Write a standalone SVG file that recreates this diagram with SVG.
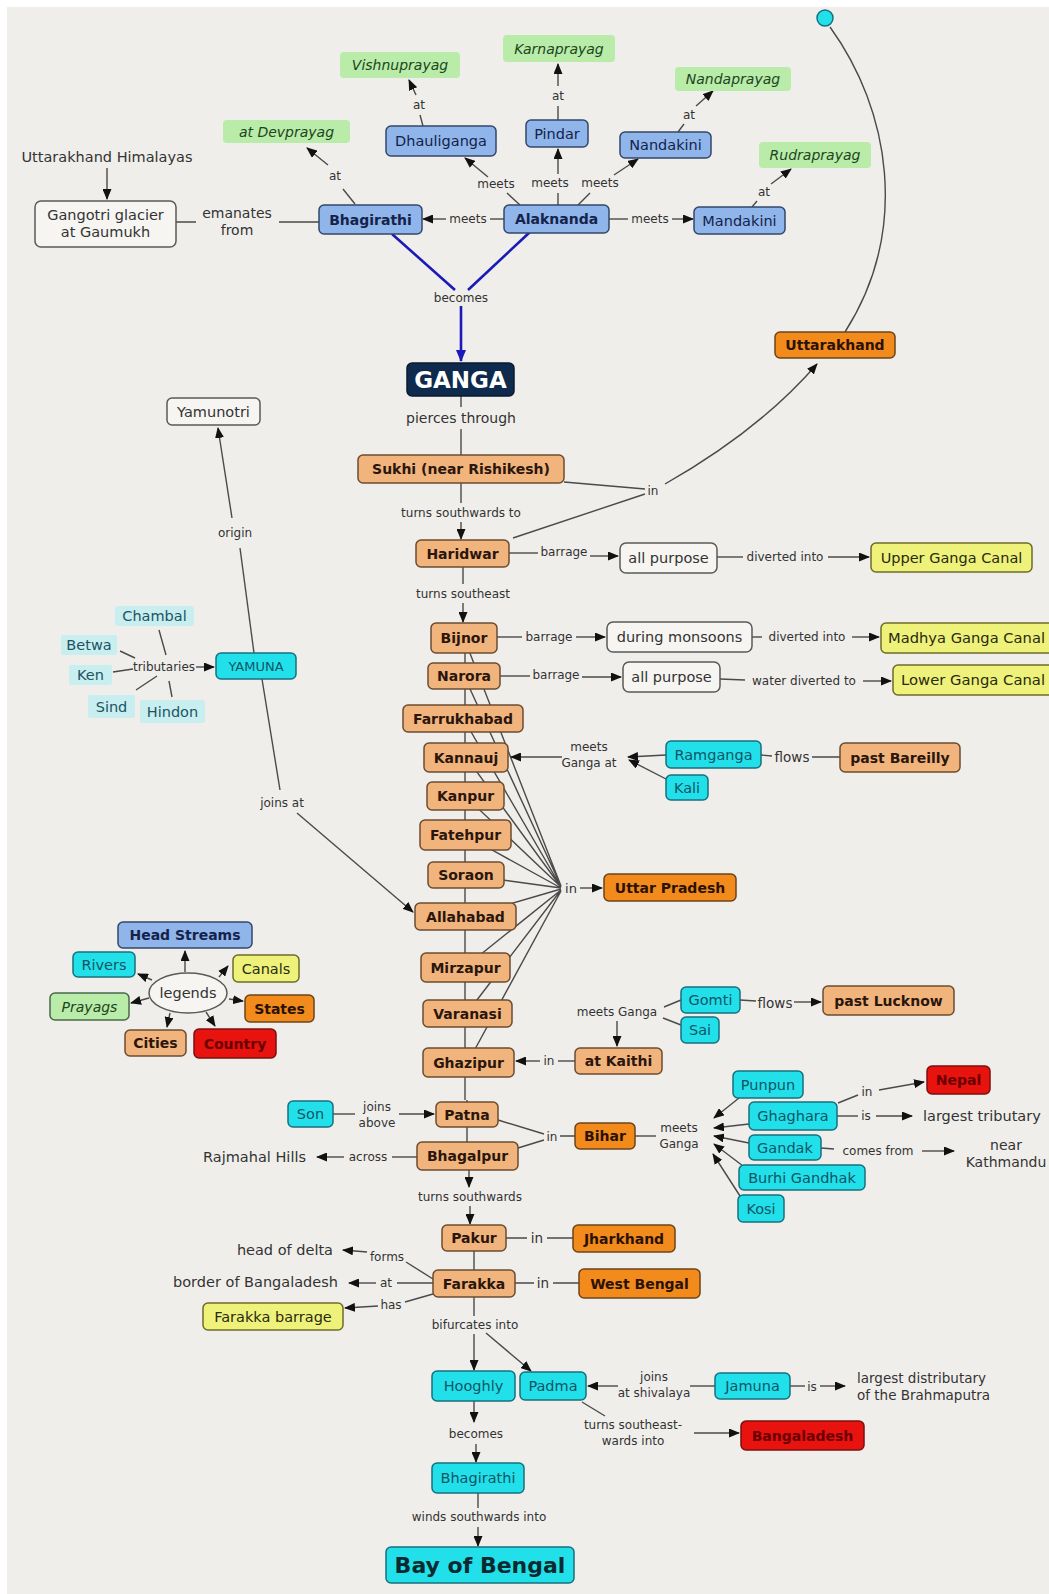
<svg xmlns="http://www.w3.org/2000/svg" width="1049" height="1594" viewBox="0 0 1049 1594">
<defs>
<marker id="arr" markerUnits="userSpaceOnUse" markerWidth="11" markerHeight="9" refX="10" refY="4.5" orient="auto"><path d="M0,0 L11,4.5 L0,9 z" fill="#111"/></marker>
<marker id="arrb" markerUnits="userSpaceOnUse" markerWidth="12" markerHeight="10" refX="11" refY="5" orient="auto"><path d="M0,0 L12,5 L0,10 z" fill="#1a1ab8"/></marker>
<style>
text{font-family:"DejaVu Sans",Verdana,sans-serif;dominant-baseline:central;text-anchor:middle;font-size:14.5px;fill:#2a2a2a}
rect{stroke-width:1.5}
.lbl{font-size:12px;fill:#333}
.city rect{fill:#f2b47d;stroke:#6b4c30}
.city text{fill:#2a160c;font-weight:bold;font-size:14px}
.state rect{fill:#f28a1c;stroke:#6b4418}
.state text{fill:#2a1205;font-weight:bold;font-size:14px}
.head rect{fill:#8fb5ea;stroke:#34476b}
.head text{fill:#15234a}
.b text{font-weight:bold;font-size:14px}
.river rect{fill:#22e0ea;stroke:#17707e}
.river text{fill:#0f5566}
.prayag rect{fill:#b9eba9;stroke:none}
.prayag text{fill:#1c461c;font-style:italic;font-size:14px}
.canal rect{fill:#eef27a;stroke:#6c6c2a}
.canal text{fill:#2a2a10}
.plain rect{fill:#f6f5f2;stroke:#5a5a5a}
.plain text{fill:#333}
.country rect{fill:#e8120e;stroke:#7a1010}
.country text{fill:#6a0000;font-weight:bold;font-size:14px}
.trib rect{fill:#c9eef0;stroke:none}
.trib text{fill:#1b5463}
.free{fill:#333}
</style>
</defs>
<rect x="0" y="0" width="1049" height="1594" fill="#ffffff"/>
<rect x="7" y="7" width="1042" height="1587" fill="#f0eeeb"/>

<g id="connectors" fill="none" stroke="#4a4a4a" stroke-width="1.4">
<path d="M107,168 L107,199" marker-end="url(#arr)"/>
<path d="M176,222 L196,222 M279,222 L319,222"/>
<path d="M504,219 L490,219"/><path d="M446,219 L423,219" marker-end="url(#arr)"/>
<path d="M355,204 L343,189"/><path d="M328,165 L307,148" marker-end="url(#arr)"/>
<path d="M520,205 L507,193"/><path d="M488,177 L465,158" marker-end="url(#arr)"/>
<path d="M423,126 L420,115"/><path d="M416,95 L409,80" marker-end="url(#arr)"/>
<path d="M558,205 L558,193"/><path d="M558,174 L558,149" marker-end="url(#arr)"/>
<path d="M558,120 L558,106"/><path d="M558,86 L558,64" marker-end="url(#arr)"/>
<path d="M578,205 L590,193"/><path d="M614,175 L638,159" marker-end="url(#arr)"/>
<path d="M678,132 L684,124"/><path d="M696,106 L713,91" marker-end="url(#arr)"/>
<path d="M609,219 L628,219"/><path d="M672,219 L693,219" marker-end="url(#arr)"/>
<path d="M752,207 L757,201"/><path d="M771,184 L791,169" marker-end="url(#arr)"/>
<path d="M392,234 L455,290 M530,232 L468,290" stroke="#1a1ab8" stroke-width="2.6"/>
<path d="M461,306 L461,361" stroke="#1a1ab8" stroke-width="2.6" marker-end="url(#arrb)"/>
<path d="M461,396 L461,407 M461,429 L461,455"/>
<path d="M461,483 L461,503"/><path d="M461,522 L461,539" marker-end="url(#arr)"/>
<path d="M564,482 L645,489 M513,538 L645,494"/>
<path d="M665,484 Q760,430 817,364" marker-end="url(#arr)"/>
<path d="M830,27 C890,110 910,230 845,332"/>
<path d="M463,567 L463,584"/><path d="M463,603 L463,622" marker-end="url(#arr)"/>
<path d="M509,553 L538,553"/><path d="M590,556 L618,556" marker-end="url(#arr)"/>
<path d="M717,557 L743,557"/><path d="M828,557 L869,557" marker-end="url(#arr)"/>
<path d="M497,637 L522,637"/><path d="M576,637 L605,637" marker-end="url(#arr)"/>
<path d="M752,637 L762,637"/><path d="M852,637 L879,637" marker-end="url(#arr)"/>
<path d="M500,676 L530,676"/><path d="M582,677 L621,677" marker-end="url(#arr)"/>
<path d="M720,679 L745,680"/><path d="M863,681 L891,681" marker-end="url(#arr)"/>
<path d="M465,653 L465,1100 M467,1100 L467,1142"/>
<path d="M464,638 L561,886 M464,676 L561,886 M463,718 L561,887 M466,757 L561,887 M465,796 L561,887 M465,835 L561,888 M466,875 L561,888 M465,917 L561,889 M465,967 L561,890 M467,1013 L561,890 M468,1062 L561,891"/>
<path d="M580,888 L602,888" marker-end="url(#arr)"/>
<path d="M666,755 L628,757" marker-end="url(#arr)"/>
<path d="M668,780 L629,760" marker-end="url(#arr)"/>
<path d="M562,757 L511,757" marker-end="url(#arr)"/>
<path d="M761,755 L772,756 M812,757 L840,757"/>
<path d="M254,653 L240,548"/><path d="M232,518 L218,428" marker-end="url(#arr)"/>
<path d="M159,630 L166,655 M120,651 L135,658 M113,672 L133,669 M136,690 L157,676 M172,697 L169,681"/>
<path d="M196,667 L214,667" marker-end="url(#arr)"/>
<path d="M262,679 L280,790"/><path d="M297,813 L413,912" marker-end="url(#arr)"/>
<path d="M681,1000 L664,1007 M681,1025 L663,1018"/>
<path d="M617,1021 L617,1046" marker-end="url(#arr)"/>
<path d="M740,1000 L756,1001"/><path d="M794,1002 L821,1002" marker-end="url(#arr)"/>
<path d="M575,1061 L558,1061"/><path d="M540,1061 L516,1061" marker-end="url(#arr)"/>
<path d="M333,1114 L355,1114"/><path d="M399,1114 L434,1114" marker-end="url(#arr)"/>
<path d="M498,1120 L544,1134 M518,1148 L544,1140 M560,1136 L575,1136"/>
<path d="M635,1136 L656,1136"/>
<path d="M739,1098 L714,1118" marker-end="url(#arr)"/>
<path d="M749,1124 L714,1128" marker-end="url(#arr)"/>
<path d="M749,1143 L714,1136" marker-end="url(#arr)"/>
<path d="M743,1166 L714,1144" marker-end="url(#arr)"/>
<path d="M740,1196 L713,1154" marker-end="url(#arr)"/>
<path d="M838,1103 L858,1095"/><path d="M879,1090 L924,1082" marker-end="url(#arr)"/>
<path d="M837,1116 L858,1116"/><path d="M876,1116 L912,1116" marker-end="url(#arr)"/>
<path d="M821,1148 L834,1149"/><path d="M922,1151 L954,1151" marker-end="url(#arr)"/>
<path d="M417,1157 L392,1157"/><path d="M344,1157 L317,1157" marker-end="url(#arr)"/>
<path d="M469,1170 L469,1187" marker-end="url(#arr)"/>
<path d="M470,1206 L470,1224" marker-end="url(#arr)"/>
<path d="M506,1238 L527,1238 M547,1238 L573,1238"/>
<path d="M474,1251 L474,1270"/>
<path d="M433,1279 L406,1262"/><path d="M367,1252 L343,1250" marker-end="url(#arr)"/>
<path d="M433,1283 L397,1283"/><path d="M376,1283 L349,1283" marker-end="url(#arr)"/>
<path d="M433,1294 L405,1302"/><path d="M378,1306 L345,1308" marker-end="url(#arr)"/>
<path d="M515,1283 L534,1283 M553,1283 L579,1283"/>
<path d="M474,1297 L474,1316"/>
<path d="M474,1334 L474,1370" marker-end="url(#arr)"/>
<path d="M486,1333 L531,1371" marker-end="url(#arr)"/>
<path d="M715,1386 L690,1386"/><path d="M618,1386 L588,1386" marker-end="url(#arr)"/>
<path d="M790,1386 L805,1386"/><path d="M820,1386 L845,1386" marker-end="url(#arr)"/>
<path d="M582,1402 L605,1416"/><path d="M694,1433 L739,1433" marker-end="url(#arr)"/>
<path d="M474,1401 L474,1422" marker-end="url(#arr)"/>
<path d="M476,1444 L476,1462" marker-end="url(#arr)"/>
<path d="M478,1493 L478,1508"/><path d="M478,1527 L478,1546" marker-end="url(#arr)"/>
<path d="M185,972 L185,951" marker-end="url(#arr)"/>
<path d="M152,980 L138,974" marker-end="url(#arr)"/>
<path d="M219,977 L228,966" marker-end="url(#arr)"/>
<path d="M149,998 L131,1003" marker-end="url(#arr)"/>
<path d="M229,999 L243,1001" marker-end="url(#arr)"/>
<path d="M170,1013 L167,1027" marker-end="url(#arr)"/>
<path d="M206,1012 L215,1026" marker-end="url(#arr)"/>
</g>

<g id="link-labels" stroke="none">
<text class="lbl" x="237" y="213" style="font-size:14px">emanates</text>
<text class="lbl" x="237" y="230" style="font-size:14px">from</text>
<text class="lbl" x="468" y="219">meets</text>
<text class="lbl" x="335" y="176">at</text>
<text class="lbl" x="496" y="184">meets</text>
<text class="lbl" x="419" y="105">at</text>
<text class="lbl" x="550" y="183">meets</text>
<text class="lbl" x="558" y="96">at</text>
<text class="lbl" x="600" y="183">meets</text>
<text class="lbl" x="689" y="115">at</text>
<text class="lbl" x="650" y="219">meets</text>
<text class="lbl" x="764" y="192">at</text>
<text class="lbl" x="461" y="298">becomes</text>
<text class="lbl" x="461" y="418" style="font-size:14px">pierces through</text>
<text class="lbl" x="461" y="513">turns southwards to</text>
<text class="lbl" x="653" y="491">in</text>
<text class="lbl" x="463" y="594">turns southeast</text>
<text class="lbl" x="564" y="552">barrage</text>
<text class="lbl" x="785" y="557">diverted into</text>
<text class="lbl" x="549" y="637">barrage</text>
<text class="lbl" x="807" y="637">diverted into</text>
<text class="lbl" x="556" y="675">barrage</text>
<text class="lbl" x="804" y="681">water diverted to</text>
<text class="lbl" x="571" y="888" style="font-size:13px">in</text>
<text class="lbl" x="589" y="747">meets</text>
<text class="lbl" x="589" y="763">Ganga at</text>
<text class="lbl" x="792" y="757" style="font-size:13.5px">flows</text>
<text class="lbl" x="235" y="533">origin</text>
<text class="lbl" x="164" y="667">tributaries</text>
<text class="lbl" x="282" y="803">joins at</text>
<text class="lbl" x="617" y="1012">meets Ganga</text>
<text class="lbl" x="775" y="1003" style="font-size:13.5px">flows</text>
<text class="lbl" x="549" y="1061">in</text>
<text class="lbl" x="377" y="1107">joins</text>
<text class="lbl" x="377" y="1123">above</text>
<text class="lbl" x="552" y="1137">in</text>
<text class="lbl" x="679" y="1128">meets</text>
<text class="lbl" x="679" y="1144">Ganga</text>
<text class="lbl" x="867" y="1092">in</text>
<text class="lbl" x="866" y="1116">is</text>
<text class="lbl" x="878" y="1151">comes from</text>
<text class="lbl" x="368" y="1157">across</text>
<text class="lbl" x="470" y="1197">turns southwards</text>
<text class="lbl" x="537" y="1238" style="font-size:13.5px">in</text>
<text class="lbl" x="387" y="1257">forms</text>
<text class="lbl" x="386" y="1283">at</text>
<text class="lbl" x="391" y="1305">has</text>
<text class="lbl" x="543" y="1283" style="font-size:13.5px">in</text>
<text class="lbl" x="475" y="1325">bifurcates into</text>
<text class="lbl" x="654" y="1377">joins</text>
<text class="lbl" x="654" y="1393">at shivalaya</text>
<text class="lbl" x="812" y="1387">is</text>
<text class="lbl" x="633" y="1425">turns southeast-</text>
<text class="lbl" x="633" y="1441">wards into</text>
<text class="lbl" x="476" y="1434">becomes</text>
<text class="lbl" x="479" y="1517">winds southwards into</text>
</g>

<g id="free-texts">
<text class="free" x="107" y="157">Uttarakhand Himalayas</text>
<text class="free" x="306" y="1157" style="text-anchor:end">Rajmahal Hills</text>
<text class="free" x="333" y="1250" style="text-anchor:end">head of delta</text>
<text class="free" x="338" y="1282" style="text-anchor:end">border of Bangaladesh</text>
<text class="free" x="923" y="1116" style="text-anchor:start">largest tributary</text>
<text class="free" x="1006" y="1145" style="font-size:14px">near</text>
<text class="free" x="1006" y="1162" style="font-size:14px">Kathmandu</text>
<text class="free" x="857" y="1378" style="text-anchor:start;font-size:13.5px">largest distributary</text>
<text class="free" x="857" y="1395" style="text-anchor:start;font-size:13.5px">of the Brahmaputra</text>
</g>

<g id="n-circle"><circle cx="825" cy="18" r="8" fill="#22e0ea" stroke="#17707e" stroke-width="1.5"/></g>

<g id="n-gangotri" class="plain"><rect x="35" y="201" width="141" height="46" rx="6"/><text x="105.5" y="215">Gangotri glacier</text><text x="105.5" y="232">at Gaumukh</text></g>
<g id="n-bhagirathi" class="head b"><rect x="319" y="205" width="103" height="29" rx="5"/><text x="370.5" y="219.5">Bhagirathi</text></g>
<g id="n-alaknanda" class="head b"><rect x="504" y="205" width="105" height="28" rx="5"/><text x="556.5" y="219">Alaknanda</text></g>
<g id="n-dhauliganga" class="head"><rect x="386" y="126" width="110" height="30" rx="5"/><text x="441" y="141">Dhauliganga</text></g>
<g id="n-pindar" class="head"><rect x="526" y="120" width="62" height="27" rx="5"/><text x="557" y="133.5">Pindar</text></g>
<g id="n-nandakini" class="head"><rect x="620" y="132" width="91" height="26" rx="5"/><text x="665.5" y="145">Nandakini</text></g>
<g id="n-mandakini" class="head"><rect x="694" y="207" width="91" height="27" rx="5"/><text x="739.5" y="220.5">Mandakini</text></g>
<g id="n-devprayag" class="prayag"><rect x="223" y="120" width="127" height="23" rx="4"/><text x="286.5" y="131.5">at Devprayag</text></g>
<g id="n-vishnuprayag" class="prayag"><rect x="340" y="52" width="120" height="26" rx="4"/><text x="400" y="65">Vishnuprayag</text></g>
<g id="n-karnaprayag" class="prayag"><rect x="503" y="35" width="112" height="27" rx="4"/><text x="559" y="48.5">Karnaprayag</text></g>
<g id="n-nandaprayag" class="prayag"><rect x="675" y="67" width="116" height="24" rx="4"/><text x="733" y="79">Nandaprayag</text></g>
<g id="n-rudraprayag" class="prayag"><rect x="759" y="142" width="112" height="26" rx="4"/><text x="815" y="155">Rudraprayag</text></g>

<g id="n-uttarakhand" class="state"><rect x="775" y="332" width="120" height="26" rx="5"/><text x="835" y="345">Uttarakhand</text></g>
<g id="n-ganga"><rect x="407" y="363" width="107" height="33" rx="5" fill="#0e2a4c" stroke="#0a1a30"/><text x="460.5" y="380" style="fill:#ffffff;font-weight:bold;font-size:23px">GANGA</text></g>
<g id="n-yamunotri" class="plain"><rect x="167" y="398" width="93" height="27" rx="5"/><text x="213.5" y="411.5">Yamunotri</text></g>
<g id="n-sukhi" class="city"><rect x="358" y="455" width="206" height="28" rx="5"/><text x="461" y="469">Sukhi (near Rishikesh)</text></g>
<g id="n-haridwar" class="city"><rect x="416" y="540" width="93" height="27" rx="5"/><text x="462.5" y="553.5">Haridwar</text></g>
<g id="n-allpurpose1" class="plain"><rect x="620" y="543" width="97" height="30" rx="6"/><text x="668.5" y="558">all purpose</text></g>
<g id="n-upper" class="canal"><rect x="871" y="543" width="161" height="29" rx="5"/><text x="951.5" y="557.5">Upper Ganga Canal</text></g>
<g id="n-bijnor" class="city"><rect x="431" y="623" width="66" height="30" rx="5"/><text x="464" y="638">Bijnor</text></g>
<g id="n-monsoons" class="plain"><rect x="607" y="622" width="145" height="30" rx="6"/><text x="679.5" y="637">during monsoons</text></g>
<g id="n-madhya" class="canal"><rect x="881" y="623" width="180" height="30" rx="5"/><text x="888" y="638" style="text-anchor:start" textLength="157" lengthAdjust="spacingAndGlyphs">Madhya Ganga Canal</text></g>
<g id="n-narora" class="city"><rect x="428" y="663" width="72" height="26" rx="5"/><text x="464" y="676">Narora</text></g>
<g id="n-allpurpose2" class="plain"><rect x="623" y="662" width="97" height="30" rx="6"/><text x="671.5" y="677">all purpose</text></g>
<g id="n-lower" class="canal"><rect x="893" y="665" width="170" height="30" rx="5"/><text x="901" y="680" style="text-anchor:start" textLength="144" lengthAdjust="spacingAndGlyphs">Lower Ganga Canal</text></g>

<g id="n-yamuna" class="river"><rect x="216" y="653" width="80" height="26" rx="5"/><text x="256" y="666" style="font-size:13px">YAMUNA</text></g>
<g id="n-chambal" class="trib"><rect x="115" y="606" width="79" height="20" rx="2"/><text x="154.5" y="616">Chambal</text></g>
<g id="n-betwa" class="trib"><rect x="61" y="635" width="56" height="20" rx="2"/><text x="89" y="645">Betwa</text></g>
<g id="n-ken" class="trib"><rect x="69" y="665" width="43" height="20" rx="2"/><text x="90.5" y="675">Ken</text></g>
<g id="n-sind" class="trib"><rect x="88" y="695" width="47" height="23" rx="2"/><text x="111.5" y="706.5">Sind</text></g>
<g id="n-hindon" class="trib"><rect x="140" y="700" width="65" height="23" rx="2"/><text x="172.5" y="711.5">Hindon</text></g>

<g id="n-farrukhabad" class="city"><rect x="403" y="705" width="120" height="27" rx="5"/><text x="463" y="718.5">Farrukhabad</text></g>
<g id="n-kannauj" class="city"><rect x="424" y="743" width="84" height="29" rx="5"/><text x="466" y="757.5">Kannauj</text></g>
<g id="n-ramganga" class="river"><rect x="666" y="741" width="95" height="27" rx="5"/><text x="713.5" y="754.5">Ramganga</text></g>
<g id="n-kali" class="river"><rect x="666" y="775" width="42" height="25" rx="5"/><text x="687" y="787.5">Kali</text></g>
<g id="n-bareilly" class="city"><rect x="840" y="743" width="120" height="29" rx="5"/><text x="900" y="757.5">past Bareilly</text></g>
<g id="n-kanpur" class="city"><rect x="427" y="782" width="77" height="28" rx="5"/><text x="465.5" y="796">Kanpur</text></g>
<g id="n-fatehpur" class="city"><rect x="420" y="820" width="91" height="30" rx="5"/><text x="465.5" y="835">Fatehpur</text></g>
<g id="n-soraon" class="city"><rect x="428" y="862" width="76" height="26" rx="5"/><text x="466" y="875">Soraon</text></g>
<g id="n-uttarpradesh" class="state"><rect x="604" y="874" width="132" height="27" rx="5"/><text x="670" y="887.5">Uttar Pradesh</text></g>
<g id="n-allahabad" class="city"><rect x="415" y="903" width="101" height="27" rx="5"/><text x="465.5" y="916.5">Allahabad</text></g>
<g id="n-mirzapur" class="city"><rect x="421" y="953" width="89" height="29" rx="5"/><text x="465.5" y="967.5">Mirzapur</text></g>
<g id="n-varanasi" class="city"><rect x="423" y="1000" width="89" height="27" rx="5"/><text x="467.5" y="1013.5">Varanasi</text></g>
<g id="n-gomti" class="river"><rect x="681" y="987" width="59" height="26" rx="5"/><text x="710.5" y="1000">Gomti</text></g>
<g id="n-sai" class="river"><rect x="681" y="1017" width="38" height="26" rx="5"/><text x="700" y="1030">Sai</text></g>
<g id="n-lucknow" class="city"><rect x="823" y="986" width="131" height="29" rx="5"/><text x="888.5" y="1000.5">past Lucknow</text></g>
<g id="n-ghazipur" class="city"><rect x="423" y="1048" width="91" height="29" rx="5"/><text x="468.5" y="1062.5">Ghazipur</text></g>
<g id="n-kaithi" class="city"><rect x="575" y="1048" width="87" height="26" rx="5"/><text x="618.5" y="1061">at Kaithi</text></g>

<g id="legend">
<g id="n-leg-ellipse"><ellipse cx="188" cy="993" rx="39" ry="20" fill="#f6f5f2" stroke="#5a5a5a" stroke-width="1.5"/><text x="188" y="993" style="fill:#333">legends</text></g>
<g id="n-leg-head" class="head b"><rect x="118" y="922" width="134" height="26" rx="5"/><text x="185" y="935">Head Streams</text></g>
<g id="n-leg-rivers" class="river"><rect x="73" y="952" width="62" height="25" rx="5"/><text x="104" y="964.5">Rivers</text></g>
<g id="n-leg-canals" class="canal"><rect x="233" y="955" width="66" height="27" rx="5"/><text x="266" y="968.5">Canals</text></g>
<g id="n-leg-prayags" class="prayag"><rect x="50" y="993" width="79" height="27" rx="5" style="stroke:#4a6a4a"/><text x="89.5" y="1006.5">Prayags</text></g>
<g id="n-leg-states" class="state"><rect x="245" y="995" width="69" height="27" rx="5"/><text x="279.5" y="1008.5">States</text></g>
<g id="n-leg-cities" class="city"><rect x="125" y="1030" width="61" height="26" rx="5"/><text x="155.5" y="1043">Cities</text></g>
<g id="n-leg-country" class="country"><rect x="194" y="1029" width="82" height="29" rx="5"/><text x="235" y="1043.5">Country</text></g>
</g>

<g id="n-punpun" class="river"><rect x="733" y="1071" width="70" height="27" rx="5"/><text x="768" y="1084.5">Punpun</text></g>
<g id="n-nepal" class="country"><rect x="927" y="1066" width="63" height="28" rx="5"/><text x="958.5" y="1080">Nepal</text></g>
<g id="n-son" class="river"><rect x="288" y="1101" width="45" height="26" rx="5"/><text x="310.5" y="1114">Son</text></g>
<g id="n-patna" class="city"><rect x="436" y="1102" width="62" height="25" rx="5"/><text x="467" y="1114.5">Patna</text></g>
<g id="n-ghaghara" class="river"><rect x="749" y="1102" width="88" height="28" rx="5"/><text x="793" y="1116">Ghaghara</text></g>
<g id="n-bihar" class="state"><rect x="575" y="1123" width="60" height="26" rx="5"/><text x="605" y="1136">Bihar</text></g>
<g id="n-bhagalpur" class="city"><rect x="417" y="1142" width="101" height="28" rx="5"/><text x="467.5" y="1156">Bhagalpur</text></g>
<g id="n-gandak" class="river"><rect x="749" y="1135" width="72" height="25" rx="5"/><text x="785" y="1147.5">Gandak</text></g>
<g id="n-burhigandhak" class="river"><rect x="739" y="1165" width="126" height="25" rx="5"/><text x="802" y="1177.5">Burhi Gandhak</text></g>
<g id="n-kosi" class="river"><rect x="738" y="1195" width="46" height="27" rx="5"/><text x="761" y="1208.5">Kosi</text></g>
<g id="n-pakur" class="city"><rect x="442" y="1225" width="64" height="26" rx="5"/><text x="474" y="1238">Pakur</text></g>
<g id="n-jharkhand" class="state"><rect x="573" y="1225" width="102" height="27" rx="5"/><text x="624" y="1238.5">Jharkhand</text></g>
<g id="n-farakka" class="city"><rect x="433" y="1270" width="82" height="27" rx="5"/><text x="474" y="1283.5">Farakka</text></g>
<g id="n-westbengal" class="state"><rect x="579" y="1269" width="121" height="29" rx="5"/><text x="639.5" y="1283.5">West Bengal</text></g>
<g id="n-farakkabarrage" class="canal"><rect x="203" y="1303" width="140" height="27" rx="5"/><text x="273" y="1316.5">Farakka barrage</text></g>
<g id="n-hooghly" class="river"><rect x="432" y="1371" width="83" height="30" rx="5"/><text x="473.5" y="1386">Hooghly</text></g>
<g id="n-padma" class="river"><rect x="520" y="1372" width="66" height="28" rx="5"/><text x="553" y="1386">Padma</text></g>
<g id="n-jamuna" class="river"><rect x="715" y="1373" width="75" height="26" rx="5"/><text x="752.5" y="1386">Jamuna</text></g>
<g id="n-bangaladesh" class="country"><rect x="741" y="1421" width="123" height="29" rx="5"/><text x="802.5" y="1435.5">Bangaladesh</text></g>
<g id="n-bhagirathi-lower" class="river"><rect x="432" y="1463" width="92" height="30" rx="5"/><text x="478" y="1478">Bhagirathi</text></g>
<g id="n-bayofbengal" class="river"><rect x="386" y="1547" width="188" height="36" rx="5"/><text x="480" y="1565" style="font-weight:bold;font-size:22px;fill:#0a2a30">Bay of Bengal</text></g>
</svg>
